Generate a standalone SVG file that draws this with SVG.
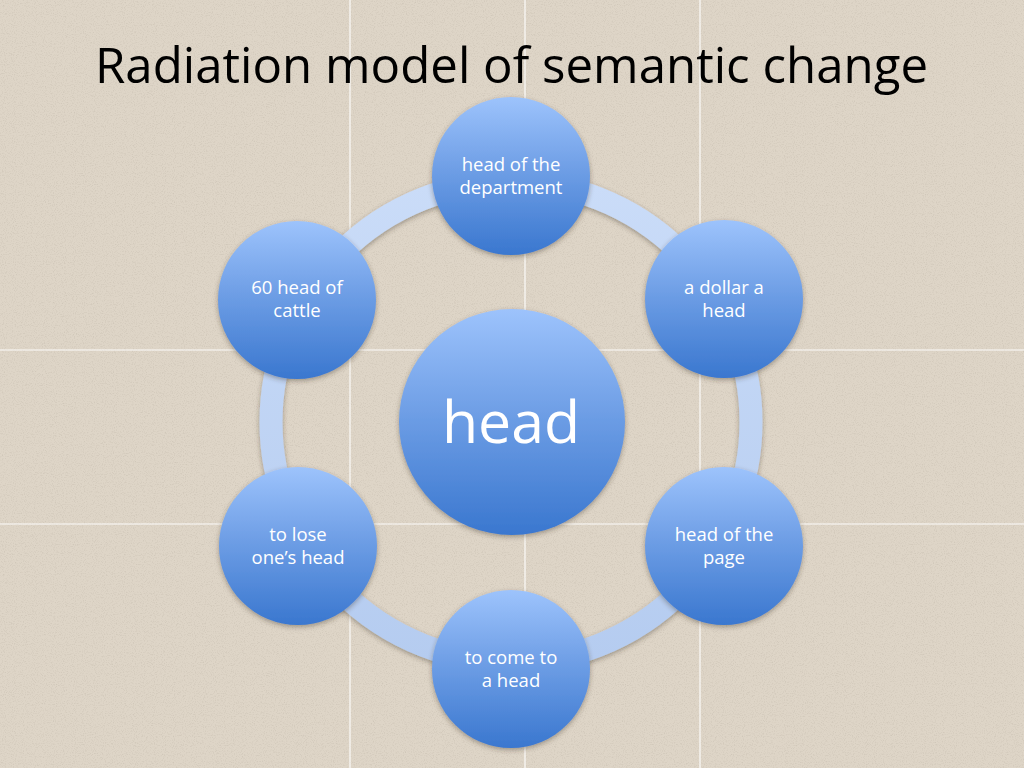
<svg xmlns="http://www.w3.org/2000/svg" width="1024" height="768" viewBox="0 0 1024 768">
<defs>
  <linearGradient id="ball" x1="0" y1="0" x2="0" y2="1">
    <stop offset="0" stop-color="#9dc3fc"/>
    <stop offset="0.45" stop-color="#6f9fe6"/>
    <stop offset="1" stop-color="#3a77cf"/>
  </linearGradient>
  <linearGradient id="ringg" x1="0" y1="0" x2="0" y2="1">
    <stop offset="0" stop-color="#cadcf8"/>
    <stop offset="1" stop-color="#b5ccf0"/>
  </linearGradient>
  <filter id="shadow" x="-20%" y="-20%" width="140%" height="140%">
    <feDropShadow dx="0" dy="2" stdDeviation="2.5" flood-color="#3a2f20" flood-opacity="0.4"/>
  </filter>
  <filter id="noise" x="0" y="0" width="100%" height="100%">
    <feTurbulence type="fractalNoise" baseFrequency="0.9" numOctaves="2" seed="3" result="n"/>
    <feColorMatrix in="n" type="matrix" values="0 0 0 0 0.45  0 0 0 0 0.40  0 0 0 0 0.33  0 0 0 -2.6 1.35" result="c"/>
    <feComposite in="c" in2="SourceGraphic" operator="in"/>
  </filter>
  <style>
    .lbl{font-family:"Open Sans","Noto Sans","Liberation Sans",sans-serif;font-size:18.5px;fill:#ffffff;text-anchor:middle}
    .big{font-family:"Open Sans","Noto Sans","Liberation Sans",sans-serif;font-size:59px;fill:#ffffff;text-anchor:middle}
    .title{font-family:"Open Sans","Noto Sans","Liberation Sans",sans-serif;font-size:50px;fill:#000000}
    .grid{stroke:#ffffff;stroke-width:1.2;opacity:0.9}
    .node{fill:url(#ball);filter:url(#shadow)}
  </style>
</defs>
<rect width="1024" height="768" fill="#ded5c7"/>
<rect width="1024" height="768" fill="#ded5c7" filter="url(#noise)" opacity="0.3"/>
<g id="grid">
  <line class="grid" x1="350" y1="0" x2="350" y2="768"/>
  <line class="grid" x1="525" y1="0" x2="525" y2="768"/>
  <line class="grid" x1="700" y1="0" x2="700" y2="768"/>
  <line class="grid" x1="0" y1="350" x2="1024" y2="350"/>
  <line class="grid" x1="0" y1="524" x2="1024" y2="524"/>
</g>
<text class="title" x="95" y="83" textLength="833" lengthAdjust="spacingAndGlyphs">Radiation model of semantic change</text>
<g id="connectors">
  <circle cx="511" cy="422" r="240" fill="none" stroke="url(#ringg)" stroke-width="23" filter="url(#shadow)"/>
</g>
<g id="node-center">
  <circle class="node" cx="512" cy="422" r="113"/>
  <text class="big" x="511" y="443">head</text>
</g>
<g id="node-top">
  <circle class="node" cx="511" cy="176" r="79"/>
  <text class="lbl" x="511" y="171">head of the</text>
  <text class="lbl" x="511" y="194">department</text>
</g>
<g id="node-top-right">
  <circle class="node" cx="724" cy="299" r="79"/>
  <text class="lbl" x="724" y="294">a dollar a</text>
  <text class="lbl" x="724" y="317">head</text>
</g>
<g id="node-bottom-right">
  <circle class="node" cx="724" cy="546" r="79"/>
  <text class="lbl" x="724" y="541">head of the</text>
  <text class="lbl" x="724" y="564">page</text>
</g>
<g id="node-bottom">
  <circle class="node" cx="511" cy="669" r="79"/>
  <text class="lbl" x="511" y="664">to come to</text>
  <text class="lbl" x="511" y="687">a head</text>
</g>
<g id="node-bottom-left">
  <circle class="node" cx="298" cy="546" r="79"/>
  <text class="lbl" x="298" y="541">to lose</text>
  <text class="lbl" x="298" y="564">one’s head</text>
</g>
<g id="node-top-left">
  <circle class="node" cx="297" cy="300" r="79"/>
  <text class="lbl" x="297" y="294">60 head of</text>
  <text class="lbl" x="297" y="317">cattle</text>
</g>
</svg>
